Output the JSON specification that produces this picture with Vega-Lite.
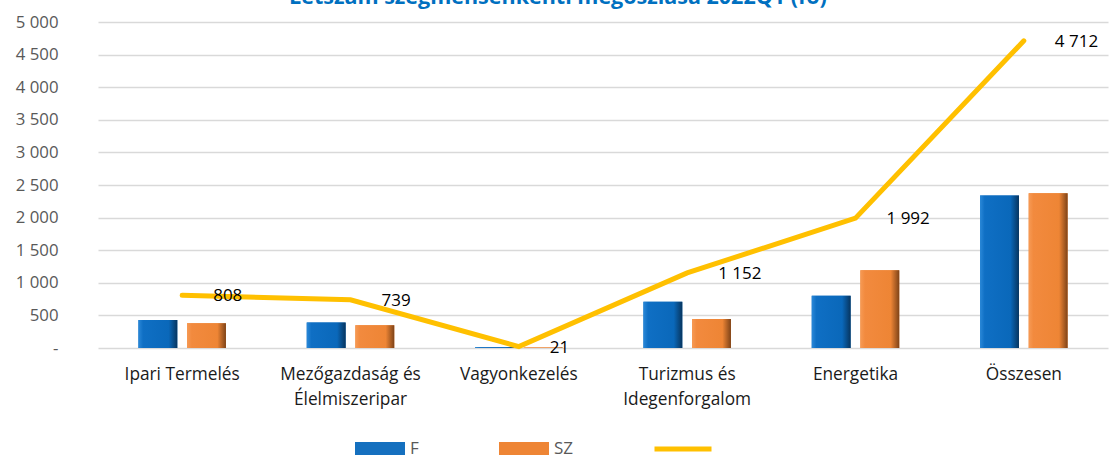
{
  "$schema": "https://vega.github.io/schema/vega-lite/v6.json",
  "autosize": {"type": "none"},
  "width": 1010,
  "height": 326,
  "padding": {"left": 98, "top": 22, "right": 3, "bottom": 107},
  "background": "white",
  "config": {
    "font": "Open Sans",
    "locale": {"number": {"decimal": ",", "thousands": " ", "grouping": [3], "currency": ["", " Ft"]}},
    "view": {"stroke": null}
  },
  "title": {
    "text": "Létszám szegmensenkénti megoszlása 2022Q1 (fő)",
    "fontSize": 21.5,
    "fontWeight": "bold",
    "color": "#0070C0",
    "anchor": "middle",
    "dx": -45,
    "baseline": "alphabetic",
    "offset": 0,
    "dy": 11
  },
  "datasets": {
    "bars": [
      {"cat": "Ipari Termelés", "series": "F", "value": 430},
      {"cat": "Ipari Termelés", "series": "SZ", "value": 378},
      {"cat": "Mezőgazdaság és Élelmiszeripar", "series": "F", "value": 390},
      {"cat": "Mezőgazdaság és Élelmiszeripar", "series": "SZ", "value": 349},
      {"cat": "Vagyonkezelés", "series": "F", "value": 12},
      {"cat": "Vagyonkezelés", "series": "SZ", "value": 9},
      {"cat": "Turizmus és Idegenforgalom", "series": "F", "value": 708},
      {"cat": "Turizmus és Idegenforgalom", "series": "SZ", "value": 444},
      {"cat": "Energetika", "series": "F", "value": 800},
      {"cat": "Energetika", "series": "SZ", "value": 1192},
      {"cat": "Összesen", "series": "F", "value": 2340},
      {"cat": "Összesen", "series": "SZ", "value": 2372}
    ],
    "totals": [
      {"cat": "Ipari Termelés", "value": 808},
      {"cat": "Mezőgazdaság és Élelmiszeripar", "value": 739},
      {"cat": "Vagyonkezelés", "value": 21},
      {"cat": "Turizmus és Idegenforgalom", "value": 1152},
      {"cat": "Energetika", "value": 1992},
      {"cat": "Összesen", "value": 4712}
    ]
  },
  "encoding": {
    "x": {
      "field": "cat",
      "type": "nominal",
      "sort": null,
      "scale": {"paddingInner": 0.48, "paddingOuter": 0.24},
      "axis": {
        "title": null,
        "labelAngle": 0,
        "ticks": false,
        "domain": false,
        "labelPadding": 17,
        "labelFontSize": 17.3,
        "labelColor": "#1a1a1a",
        "labelLineHeight": 25,
        "labelOverlap": false,
        "labelExpr": "datum.value == 'Mezőgazdaság és Élelmiszeripar' ? ['Mezőgazdaság és', 'Élelmiszeripar'] : datum.value == 'Turizmus és Idegenforgalom' ? ['Turizmus és', 'Idegenforgalom'] : datum.value"
      }
    },
    "y": {
      "field": "value",
      "type": "quantitative",
      "scale": {"domain": [0, 5000], "nice": false},
      "axis": {
        "title": null,
        "values": [0, 500, 1000, 1500, 2000, 2500, 3000, 3500, 4000, 4500, 5000],
        "tickCount": 30,
        "format": ",d",
        "labelExpr": "datum.value == 0 ? '-' : datum.label",
        "labelOverlap": false,
        "ticks": false,
        "domain": false,
        "labelPadding": 40,
        "labelFontSize": 16.8,
        "labelColor": "#595959",
        "gridColor": "#D9D9D9",
        "gridWidth": 1.3
      }
    }
  },
  "layer": [
    {
      "data": {"name": "bars"},
      "mark": {"type": "bar", "strokeWidth": 0},
      "encoding": {
        "xOffset": {"field": "series", "type": "nominal", "scale": {"paddingInner": 0.2, "paddingOuter": 0}},
        "color": {
          "field": "series",
          "type": "nominal",
          "scale": {"domain": ["F", "SZ", "Összes"], "range": ["#1570BF", "#EE8535", "#FFC000"]},
          "legend": {
            "title": null,
            "orient": "none",
            "legendX": 257,
            "legendY": 402,
            "direction": "horizontal",
            "symbolType": "M-1,-0.28H1V0.28H-1Z",
            "symbolSize": 2500,
            "symbolStrokeWidth": 0,
            "labelFontSize": 17,
            "labelColor": "#595959",
            "labelOffset": 5,
            "columnPadding": 80,
            "labelExpr": "datum.value == 'Összes' ? '' : datum.label",
            "encode": {
              "symbols": {
                "update": {
                  "shape": {"signal": "datum.value == 'Összes' ? 'M-1.14,-0.1H1.14V0.1H-1.14Z' : 'M-1,-0.28H1V0.28H-1Z'"},
                  "fill": {"scale": "color", "field": "value"},
                  "opacity": {"value": 1},
                  "strokeWidth": {"value": 0}
                }
              }
            }
          }
        }
      }
    },
    {
      "data": {"name": "bars"},
      "mark": {"type": "bar", "strokeWidth": 0},
      "encoding": {
        "xOffset": {"field": "series", "type": "nominal"},
        "fill": {
          "condition": {
            "test": "datum.series == 'F'",
            "value": {"gradient": "linear", "x1": 0, "x2": 1, "y1": 0, "y2": 0, "stops": [{"offset": 0, "color": "#2A88D8"}, {"offset": 0.12, "color": "#0F6FC4"}, {"offset": 0.78, "color": "#0A68BA"}, {"offset": 1, "color": "#07355F"}]}
          },
          "value": {"gradient": "linear", "x1": 0, "x2": 1, "y1": 0, "y2": 0, "stops": [{"offset": 0, "color": "#F69A55"}, {"offset": 0.12, "color": "#F28A3E"}, {"offset": 0.78, "color": "#EE8535"}, {"offset": 1, "color": "#7E4318"}]}
        }
      }
    },
    {
      "data": {"name": "totals"},
      "mark": {"type": "line", "strokeWidth": 5, "strokeCap": "round", "strokeJoin": "miter"},
      "encoding": {
        "color": {"datum": "Összes"}
      }
    },
    {
      "data": {"name": "totals"},
      "mark": {"type": "text", "align": "left", "baseline": "middle", "dx": 31, "dy": 1, "fontSize": 17, "color": "#000000"},
      "encoding": {
        "text": {"field": "value", "type": "quantitative", "format": ",d"}
      }
    }
  ]
}
